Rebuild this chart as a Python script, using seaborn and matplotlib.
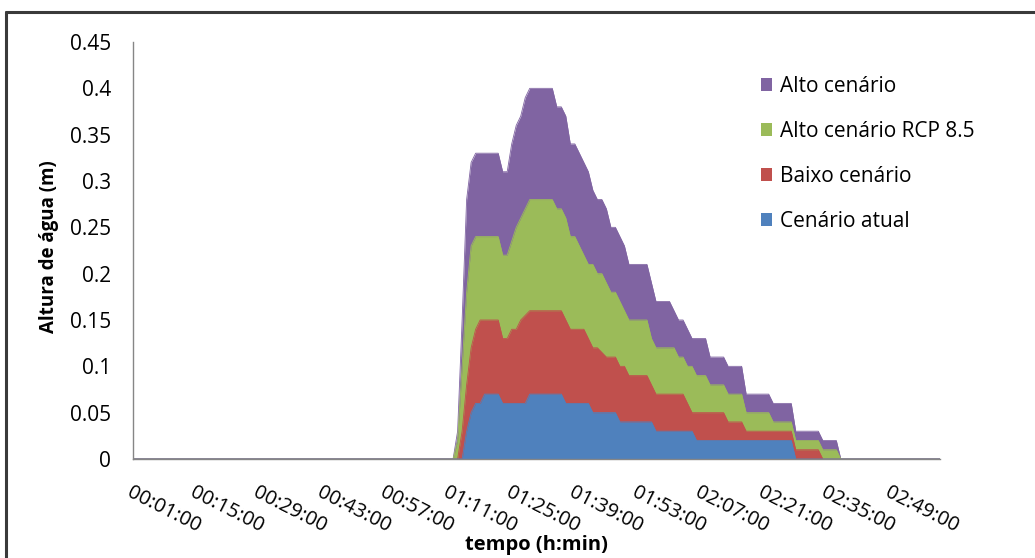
import numpy as np
import pandas as pd
import matplotlib
matplotlib.use("Agg")
import matplotlib.pyplot as plt
from matplotlib.patches import Patch
from matplotlib.lines import Line2D
from matplotlib.transforms import ScaledTranslation
import seaborn as sns

# ---------------------------------------------------------------------------
# Water depth (m) per minute; the time axis runs from 00:01 to 03:00.
# Every series is zero before 01:12 and after 02:38.
# ---------------------------------------------------------------------------
n_minutes = 180          # 00:01 ... 03:00
first_minute = 1
onset_index = 71         # index of 01:12, first listed value below

alto = [
    0.00, 0.03, 0.15, 0.28, 0.32, 0.33, 0.33, 0.33, 0.33, 0.33,
    0.33, 0.31, 0.31, 0.34, 0.36, 0.37, 0.39, 0.40, 0.40, 0.40,
    0.40, 0.40, 0.40, 0.38, 0.38, 0.37, 0.34, 0.34, 0.33, 0.32,
    0.31, 0.29, 0.28, 0.28, 0.27, 0.25, 0.25, 0.24, 0.23, 0.21,
    0.21, 0.21, 0.21, 0.21, 0.19, 0.17, 0.17, 0.17, 0.17, 0.16,
    0.15, 0.15, 0.14, 0.13, 0.13, 0.13, 0.13, 0.11, 0.11, 0.11,
    0.11, 0.10, 0.10, 0.10, 0.10, 0.07, 0.07, 0.07, 0.07, 0.07,
    0.07, 0.06, 0.06, 0.06, 0.06, 0.06, 0.03, 0.03, 0.03, 0.03,
    0.03, 0.03, 0.02, 0.02, 0.02, 0.02, 0.00,
]
rcp85 = [
    0.00, 0.02, 0.10, 0.18, 0.23, 0.24, 0.24, 0.24, 0.24, 0.24,
    0.24, 0.22, 0.22, 0.235, 0.25, 0.26, 0.27, 0.28, 0.28, 0.28,
    0.28, 0.28, 0.28, 0.27, 0.27, 0.26, 0.24, 0.24, 0.23, 0.22,
    0.21, 0.21, 0.20, 0.20, 0.19, 0.18, 0.18, 0.17, 0.16, 0.15,
    0.15, 0.15, 0.15, 0.15, 0.13, 0.12, 0.12, 0.12, 0.12, 0.12,
    0.11, 0.11, 0.10, 0.10, 0.09, 0.09, 0.09, 0.08, 0.08, 0.08,
    0.08, 0.07, 0.07, 0.07, 0.07, 0.05, 0.05, 0.05, 0.05, 0.05,
    0.05, 0.04, 0.04, 0.04, 0.04, 0.04, 0.02, 0.02, 0.02, 0.02,
    0.02, 0.02, 0.01, 0.01, 0.01, 0.01, 0.00,
]
baixo = [
    0.00, 0.00, 0.03, 0.08, 0.12, 0.14, 0.15, 0.15, 0.15, 0.15,
    0.15, 0.13, 0.13, 0.14, 0.14, 0.15, 0.155, 0.16, 0.16, 0.16,
    0.16, 0.16, 0.16, 0.16, 0.16, 0.15, 0.14, 0.14, 0.14, 0.14,
    0.13, 0.12, 0.12, 0.115, 0.11, 0.11, 0.11, 0.10, 0.10, 0.09,
    0.09, 0.09, 0.09, 0.09, 0.08, 0.07, 0.07, 0.07, 0.07, 0.07,
    0.07, 0.07, 0.06, 0.05, 0.05, 0.05, 0.05, 0.05, 0.05, 0.05,
    0.05, 0.04, 0.04, 0.04, 0.04, 0.03, 0.03, 0.03, 0.03, 0.03,
    0.03, 0.03, 0.03, 0.03, 0.03, 0.03, 0.01, 0.01, 0.01, 0.01,
    0.01, 0.01, 0.00, 0.00, 0.00, 0.00, 0.00,
]
atual = [
    0.00, 0.00, 0.00, 0.03, 0.05, 0.06, 0.06, 0.07, 0.07, 0.07,
    0.07, 0.06, 0.06, 0.06, 0.06, 0.06, 0.06, 0.07, 0.07, 0.07,
    0.07, 0.07, 0.07, 0.07, 0.07, 0.06, 0.06, 0.06, 0.06, 0.06,
    0.06, 0.05, 0.05, 0.05, 0.05, 0.05, 0.05, 0.04, 0.04, 0.04,
    0.04, 0.04, 0.04, 0.04, 0.04, 0.03, 0.03, 0.03, 0.03, 0.03,
    0.03, 0.03, 0.03, 0.03, 0.02, 0.02, 0.02, 0.02, 0.02, 0.02,
    0.02, 0.02, 0.02, 0.02, 0.02, 0.02, 0.02, 0.02, 0.02, 0.02,
    0.02, 0.02, 0.02, 0.02, 0.02, 0.02, 0.00, 0.00, 0.00, 0.00,
    0.00, 0.00, 0.00, 0.00, 0.00, 0.00, 0.00,
]

series_names = ["Alto cenário", "Alto cenário RCP 8.5", "Baixo cenário", "Cenário atual"]
series_values = [alto, rcp85, baixo, atual]
series_colors = ["#8064A2", "#9BBB59", "#C0504D", "#4F81BD"]

tick_labels = ["00:01:00", "00:15:00", "00:29:00", "00:43:00", "00:57:00",
               "01:11:00", "01:25:00", "01:39:00", "01:53:00", "02:07:00",
               "02:21:00", "02:35:00", "02:49:00"]
tick_step = 14
y_ticks = [0, 0.05, 0.1, 0.15, 0.2, 0.25, 0.3, 0.35, 0.4, 0.45]


def full_series(values):
    """Place the listed values on the whole minute axis (zeros elsewhere)."""
    out = np.zeros(n_minutes)
    out[onset_index:onset_index + len(values)] = values
    return out


minute_index = np.arange(n_minutes)
frame = pd.DataFrame({"minuto": minute_index})
for name, vals in zip(series_names, series_values):
    frame[name] = full_series(vals)
long = frame.melt(id_vars="minuto", var_name="cenario", value_name="altura")

# ---------------------------------------------------------------------------
sns.set_theme(style="white")
plt.rcParams["font.family"] = ["Open Sans", "DejaVu Sans"]
plt.rcParams["text.color"] = "#000000"

W, H = 1035, 558
fig = plt.figure(figsize=(W / 100, H / 100), dpi=100)
fig.patch.set_facecolor("white")

x0, x1, y_top, y_bot = 133, 940, 42, 459
ax = fig.add_axes([x0 / W, 1 - y_bot / H, (x1 - x0) / W, (y_bot - y_top) / H])
ax.set_facecolor("white")

# Overlapping areas: the largest scenario behind, the current one in front
for z, (name, color) in enumerate(zip(series_names, series_colors)):
    sub = long[long["cenario"] == name]
    ax.fill_between(sub["minuto"], 0, sub["altura"], color=color,
                    linewidth=0, zorder=2 + z)
    sns.lineplot(data=sub, x="minuto", y="altura", color=color, lw=0.6,
                 ax=ax, zorder=2 + z, legend=False)

ax.set_xlim(0, n_minutes - 1)
ax.set_ylim(0, 0.45)
ax.set_yticks(y_ticks)
ax.set_yticklabels([f"{v:g}" for v in y_ticks], fontsize=15, color="black")
ax.set_xticks(np.arange(0, n_minutes, tick_step)[:len(tick_labels)])
ax.set_xticklabels(tick_labels, fontsize=14.5, rotation=-27, color="black",
                   ha="left", va="top", rotation_mode="anchor")
shift = ScaledTranslation(12 / 100, 0, fig.dpi_scale_trans)
for lab in ax.get_xticklabels():
    lab.set_transform(lab.get_transform() + shift)
ax.tick_params(axis="x", length=0, pad=17)
ax.tick_params(axis="y", length=0, pad=16)
ax.set_xlabel("")
ax.set_ylabel("")

for side in ["top", "right"]:
    ax.spines[side].set_visible(False)
for side in ["left", "bottom"]:
    ax.spines[side].set_color("#868686")
    ax.spines[side].set_linewidth(1.0)
    ax.spines[side].set_zorder(10)

fig.text(49 / W, 1 - 247 / H, "Altura de água (m)", rotation=90,
         ha="center", va="center", fontsize=13.5, fontweight="bold")
fig.text(536 / W, 1 - 545 / H, "tempo (h:min)", ha="center", va="center",
         fontsize=14.5, fontweight="bold")

handles = [Patch(facecolor=c, edgecolor="none") for c in series_colors]
fig.legend(handles, series_names, loc="upper left",
           bbox_to_anchor=(761 / W, 1 - 76 / H), bbox_transform=fig.transFigure,
           frameon=False, fontsize=15, handlelength=0.55, handleheight=0.55,
           handletextpad=0.35, labelspacing=1.15, borderpad=0, borderaxespad=0)

# Outer chart frame (top and left edges)
frame_kw = dict(color="#3a3a3a", lw=2.2, transform=fig.transFigure)
fig.add_artist(Line2D([6 / W, 6 / W], [0, 1 - 12 / H], **frame_kw))
fig.add_artist(Line2D([6 / W, 1], [1 - 12 / H, 1 - 12 / H], **frame_kw))

fig.savefig("out.png", dpi=100, facecolor="white")
